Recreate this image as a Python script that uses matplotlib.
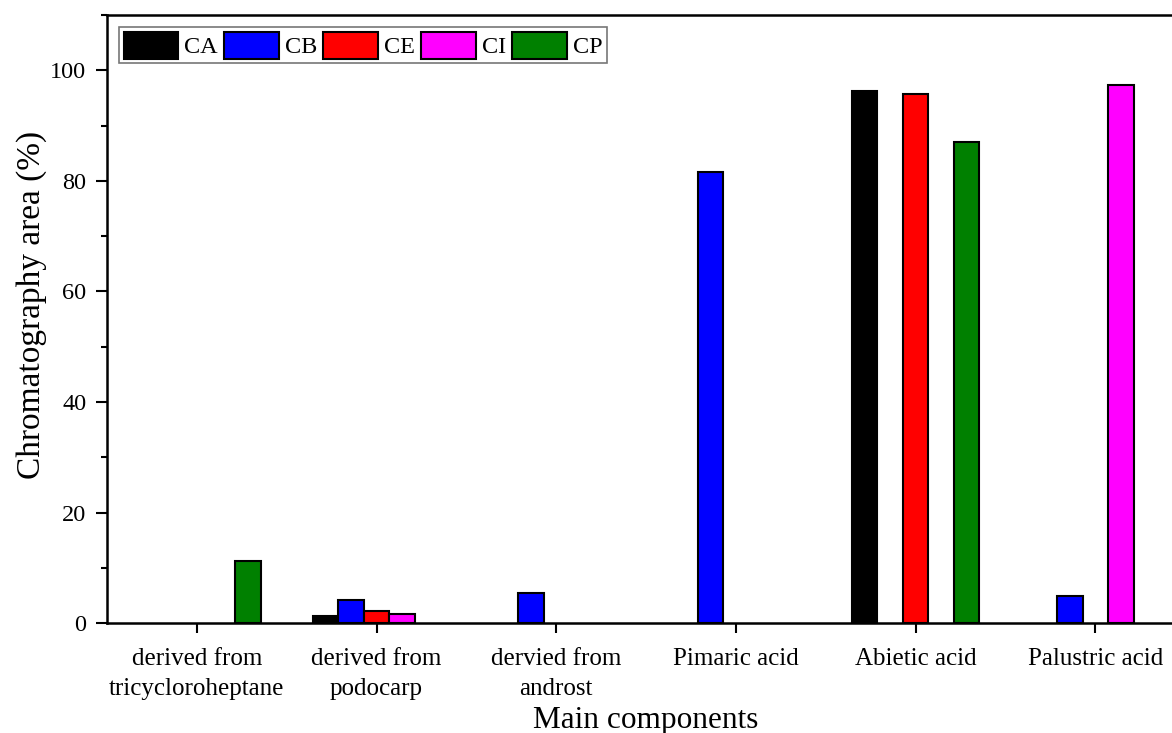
import matplotlib.pyplot as plt
import numpy as np
from matplotlib.ticker import MultipleLocator

plt.rcParams['font.family'] = ['Liberation Serif', 'DejaVu Serif']

components = ['derived from\ntricycloroheptane', 'derived from\npodocarp',
              'dervied from\nandrost', 'Pimaric acid', 'Abietic acid', 'Palustric acid']
samples = ['CA', 'CB', 'CE', 'CI', 'CP']
colors = ['#000000', '#0000ff', '#ff0000', '#ff00ff', '#008000']

CA = [0, 1.35, 0, 0, 96.3, 0]
CB = [0, 4.25, 5.45, 81.6, 0, 4.9]
CE = [0, 2.25, 0, 0, 95.7, 0]
CI = [0, 1.7, 0, 0, 0, 97.4]
CP = [11.2, 0, 0, 0, 87.1, 0]
series = [CA, CB, CE, CI, CP]

fig = plt.figure(figsize=(11.72, 7.33), dpi=100)
ax = fig.add_axes([0.0913, 0.150, 0.92, 0.8295])

x = np.arange(len(components))
w = 0.142
for i, (name, vals, c) in enumerate(zip(samples, series, colors)):
    v = np.array(vals, dtype=float)
    keep = v > 0
    ax.bar(x[keep] + (i - 2) * w, v[keep], width=w, color=c, edgecolor='black',
           linewidth=1.5, label=name)

ax.set_xlim(-0.5, 5.5)
ax.set_ylim(0, 110)
ax.set_xticks(x)
ax.set_xticklabels(components, fontsize=18, linespacing=1.45)
ax.yaxis.set_major_locator(MultipleLocator(20))
ax.yaxis.set_minor_locator(MultipleLocator(10))
ax.tick_params(axis='y', which='major', direction='out', length=8, width=1.5,
               labelsize=17.5, pad=7)
ax.tick_params(axis='y', which='minor', direction='out', length=4, width=1.5)
ax.tick_params(axis='x', which='major', direction='out', length=7, width=1.5, pad=11)
for s in ax.spines.values():
    s.set_linewidth(1.8)

ax.set_xlabel('Main components', fontsize=22.5, labelpad=4.5)
ax.set_ylabel('Chromatography area (%)', fontsize=24, labelpad=2)
ax.yaxis.label.set_y(0.523)

leg = ax.legend(loc='upper left', ncol=5, fontsize=17.5, frameon=True, fancybox=False,
                handlelength=2.25, handleheight=1.35, handletextpad=0.25,
                columnspacing=0.25, borderpad=0.18, borderaxespad=0.5)
leg.get_frame().set_edgecolor('#555555')
leg.get_frame().set_linewidth(1.2)

fig.savefig('out.png', dpi=100)
